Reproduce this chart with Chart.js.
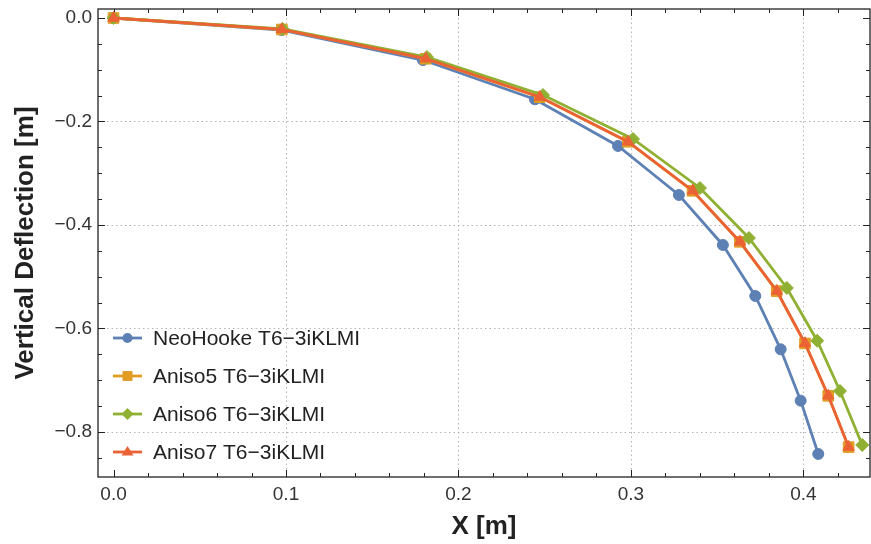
<!DOCTYPE html>
<html>
<head>
<meta charset="utf-8">
<title>Vertical Deflection</title>
<script src="https://cdn.jsdelivr.net/npm/chart.js@4.4.1/dist/chart.umd.min.js"></script>
<style>
  html, body { margin: 0; padding: 0; overflow: hidden; background: #fff; }
  #wrap { width: 871px; height: 544px; position: relative; overflow: hidden; }
  #deflChart { display: block; }
</style>
</head>
<body>
<div id="wrap"><canvas id="deflChart"></canvas></div>
<script>
// values
const seriesNames = ["NeoHooke T6\u22123iKLMI", "Aniso5 T6\u22123iKLMI", "Aniso6 T6\u22123iKLMI", "Aniso7 T6\u22123iKLMI"];

const xNeo = [0, 0.0975, 0.1794, 0.2443, 0.2925, 0.3278, 0.3533, 0.3721, 0.3868, 0.3984, 0.4086];
const yNeo = [0, -0.0232, -0.0812, -0.1571, -0.2473, -0.3420, -0.4386, -0.5372, -0.6402, -0.7395, -0.8425];

const xAniso5 = [0, 0.0976, 0.1809, 0.2471, 0.2982, 0.3357, 0.3631, 0.3845, 0.4009, 0.4144, 0.4262];
const yAniso5 = [0, -0.0222, -0.0787, -0.1529, -0.2391, -0.3339, -0.4325, -0.5278, -0.6288, -0.7301, -0.8292];

const xAniso6 = [0, 0.0980, 0.1817, 0.2490, 0.3012, 0.3400, 0.3684, 0.3904, 0.4080, 0.4212, 0.4341];
const yAniso6 = [0, -0.0210, -0.0754, -0.1488, -0.2338, -0.3285, -0.4251, -0.5217, -0.6236, -0.7208, -0.8251];

const xAniso7 = [0, 0.0975, 0.1810, 0.2472, 0.2983, 0.3358, 0.3632, 0.3846, 0.4009, 0.4144, 0.4262];
const yAniso7 = [0, -0.0220, -0.0786, -0.1527, -0.2390, -0.3337, -0.4323, -0.5275, -0.6286, -0.7299, -0.8290];

const xTicks = [0, 0.1, 0.2, 0.3, 0.4];
const yTicks = [0, -0.2, -0.4, -0.6, -0.8];

const colors = ["#5E81B5", "#E19C24", "#8FB032", "#EB6235"];
const markers = ["circle", "rect", "rectRot", "triangle"];
const markerSize = [5.5, 7.5, 6.5, 6.5];

function pts(xs, ys) {
  return xs.map((x, i) => ({ x: x, y: ys[i] }));
}

const allX = [xNeo, xAniso5, xAniso6, xAniso7];
const allY = [yNeo, yAniso5, yAniso6, yAniso7];

const datasets = seriesNames.map((name, i) => ({
  label: name,
  data: pts(allX[i], allY[i]),
  showLine: true,
  borderColor: colors[i],
  backgroundColor: colors[i],
  borderWidth: 2.8,
  pointStyle: markers[i],
  pointRadius: markerSize[i],
  pointHoverRadius: markerSize[i],
  pointBorderWidth: 1,
  pointBorderColor: colors[i],
  order: 4 - i,
  clip: false
}));

function fmt(v) {
  const s = Math.abs(v).toFixed(1);
  return v < -1e-9 ? "\u2212" + s : s;
}

// marker for the legend
function marker(ctx, style, x, y, r) {
  ctx.beginPath();
  if (style === "circle") {
    ctx.arc(x, y, r, 0, Math.PI * 2);
  } else if (style === "rect") {
    const s = r * Math.SQRT1_2;
    ctx.rect(x - s, y - s, 2 * s, 2 * s);
  } else if (style === "rectRot") {
    ctx.moveTo(x - r, y); ctx.lineTo(x, y - r); ctx.lineTo(x + r, y); ctx.lineTo(x, y + r);
    ctx.closePath();
  } else {
    ctx.moveTo(x, y - r);
    ctx.lineTo(x + r, y + r * 0.6);
    ctx.lineTo(x - r, y + r * 0.6);
    ctx.closePath();
  }
  ctx.fill();
}

// frame, dotted grid and inward ticks like the original
const framePlugin = {
  id: "frame",
  beforeDatasetsDraw(chart) {
    const ctx = chart.ctx;
    const a = chart.chartArea;
    const xs = chart.scales.x, ys = chart.scales.y;
    ctx.save();

    ctx.strokeStyle = "#b4b4b4";
    ctx.lineWidth = 1;
    ctx.setLineDash([1.5, 3]);
    xTicks.forEach(v => {
      if (v === 0) return;
      const px = Math.round(xs.getPixelForValue(v)) + 0.5;
      ctx.beginPath(); ctx.moveTo(px, a.top); ctx.lineTo(px, a.bottom); ctx.stroke();
    });
    yTicks.forEach(v => {
      if (v === 0) return;
      const py = Math.round(ys.getPixelForValue(v)) + 0.5;
      ctx.beginPath(); ctx.moveTo(a.left, py); ctx.lineTo(a.right, py); ctx.stroke();
    });
    ctx.setLineDash([]);

    ctx.strokeStyle = "#222";
    ctx.lineWidth = 1.3;
    ctx.strokeRect(a.left, a.top, a.right - a.left, a.bottom - a.top);

    ctx.lineWidth = 1;
    for (let k = 0; k <= 22; k++) {
      const v = k * 0.02;
      const px = Math.round(xs.getPixelForValue(v)) + 0.5;
      if (px > a.right - 1) break;
      const len = k % 5 === 0 ? 7 : 4;
      ctx.beginPath();
      ctx.moveTo(px, a.bottom); ctx.lineTo(px, a.bottom - len);
      ctx.moveTo(px, a.top); ctx.lineTo(px, a.top + len);
      ctx.stroke();
    }
    for (let k = 0; k <= 17; k++) {
      const v = -k * 0.05;
      const py = Math.round(ys.getPixelForValue(v)) + 0.5;
      if (py > a.bottom - 1) break;
      const len = k % 4 === 0 ? 7 : 4;
      ctx.beginPath();
      ctx.moveTo(a.left, py); ctx.lineTo(a.left + len, py);
      ctx.moveTo(a.right, py); ctx.lineTo(a.right - len, py);
      ctx.stroke();
    }
    ctx.restore();
  },
  afterDraw(chart) {
    const ctx = chart.ctx;
    ctx.save();
    const rowY = [338, 376, 414, 452];
    ctx.font = "21px 'Liberation Sans', Arial, sans-serif";
    ctx.textBaseline = "middle";
    chart.data.datasets.forEach((ds, i) => {
      const y = rowY[i];
      ctx.strokeStyle = ds.borderColor;
      ctx.fillStyle = ds.borderColor;
      ctx.lineWidth = 2.8;
      ctx.beginPath(); ctx.moveTo(113, y); ctx.lineTo(142, y); ctx.stroke();
      marker(ctx, ds.pointStyle, 127.5, y, ds.pointRadius - 0.5);
      ctx.fillStyle = "#222";
      ctx.fillText(ds.label, 153, y + 1);
    });
    ctx.restore();
  }
};

new Chart(document.getElementById("deflChart"), {
  type: "scatter",
  data: { datasets: datasets },
  options: {
    responsive: true,
    maintainAspectRatio: false,
    animation: false,
    layout: { autoPadding: false, padding: { top: 9, right: 1, left: 0, bottom: 0 } },
    plugins: {
      legend: { display: false },
      tooltip: { enabled: false }
    },
    scales: {
      x: {
        type: "linear",
        min: -0.009,
        max: 0.4386,
        afterBuildTicks: s => { s.ticks = xTicks.map(v => ({ value: v })); },
        afterFit: s => { s.height = 67; s.paddingLeft = 0; s.paddingRight = 0; },
        grid: { display: false, drawTicks: false },
        border: { display: false },
        ticks: {
          padding: 6,
          color: "#333",
          font: { family: "'Liberation Sans', Arial, sans-serif", size: 19 },
          callback: v => fmt(v)
        },
        title: {
          display: true,
          text: "X [m]",
          color: "#222",
          padding: { top: 0, bottom: 2 },
          font: { family: "'Liberation Sans', Arial, sans-serif", size: 26, weight: "bold" }
        }
      },
      y: {
        type: "linear",
        min: -0.887,
        max: 0.0174,
        afterBuildTicks: s => { s.ticks = yTicks.map(v => ({ value: v })); },
        afterFit: s => { s.width = 98; s.paddingTop = 0; s.paddingBottom = 0; },
        grid: { display: false, drawTicks: false },
        border: { display: false },
        ticks: {
          padding: 6,
          color: "#333",
          font: { family: "'Liberation Sans', Arial, sans-serif", size: 19 },
          callback: v => fmt(v)
        },
        title: {
          display: true,
          text: "Vertical Deflection [m]",
          color: "#222",
          padding: { top: 10, bottom: 0 },
          font: { family: "'Liberation Sans', Arial, sans-serif", size: 26, weight: "bold" }
        }
      }
    }
  },
  plugins: [framePlugin]
});
</script>
</body>
</html>
